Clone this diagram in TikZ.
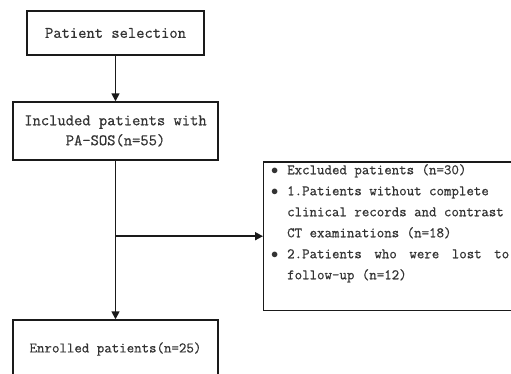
\documentclass[tikz,border=0pt]{standalone}
\usepackage{fontspec}
\usepackage{tikz}
\usetikzlibrary{arrows.meta, positioning, calc}
\newfontfamily\flowmono[FakeBold=0.6]{Latin Modern Mono}
\definecolor{inkcol}{HTML}{1A1A1A}
\definecolor{textcol}{HTML}{333333}
\newcommand{\dotitem}{\makebox[16pt][l]{$\bullet$}}
\newcommand{\noitem}{\hspace*{16pt}}

\begin{document}
\begin{tikzpicture}[x=1pt, y=-1pt,
  stage/.style={rectangle, draw=inkcol, line width=1.4pt, inner sep=0pt,
                align=center, text=textcol},
  wide/.style={font=\flowmono\fontsize{16.1}{20}\selectfont},
  narrow/.style={font=\flowmono\fontsize{14.5}{21}\selectfont},
  flow/.style={-{Triangle[length=8pt, width=8pt]}, draw=inkcol, line width=1.6pt},
]
  \useasboundingbox (0,0) rectangle (511,374);
  \node[stage, wide, minimum width=177pt, minimum height=44pt] (select) at (115.5,33)
    {Patient selection};
  \node[stage, wide, minimum width=205pt, minimum height=58pt] (incl) at (115.5,131)
    {Included patients with\\PA-SOS(n=55)};
  \node[stage, narrow, minimum width=205pt, minimum height=58pt] (enrol) at (115.5,349)
    {Enrolled patients(n=25)};
  \node[stage, minimum width=270pt, minimum height=148pt, anchor=north west] (excl) at (263,161.5) {};
  \node[narrow, text=textcol, align=left, anchor=north west, inner sep=0pt] (excltext) at (271,164)
    {\dotitem Excluded patients (n=30)\\
     \dotitem 1.Patients without complete\\
     \noitem clinical records and contrast\\
     \noitem CT examinations (n=18)\\
     \dotitem \makebox[222pt][l]{2.Patients\hfill who\hfill were\hfill lost\hfill to}\\
     \noitem follow-up (n=12)};
  \foreach \from/\to in {select/incl, incl/enrol} {
    \draw[flow] (\from) -- (\to);
  }
  \draw[flow] (incl.south |- excl.west) -- (excl.west);
\end{tikzpicture}
\end{document}
